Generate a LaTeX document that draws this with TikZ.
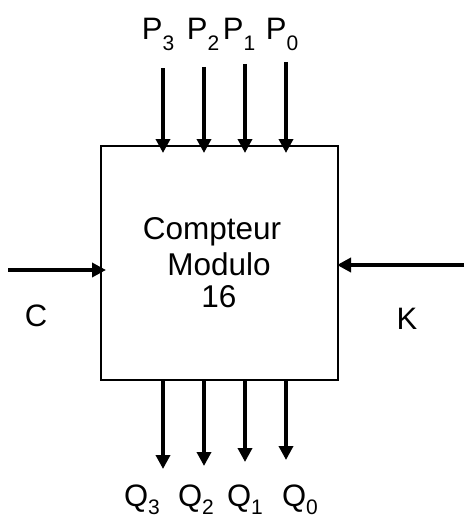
\documentclass[tikz,border=0pt]{standalone}
\usepackage{fontspec}
\setmainfont{Liberation Sans}
\usetikzlibrary{arrows.meta}
\newcommand{\subx}[2]{\raisebox{-#1pt}{\fontsize{21}{21}\selectfont #2}}
\begin{document}
\begin{tikzpicture}[x=1pt,y=-1pt,
  sig/.style={line width=4.5pt,-{Triangle[length=14pt,width=14pt]}},
  lbl/.style={font=\fontsize{31}{31}\selectfont,inner sep=0pt,anchor=base},
  txt/.style={font=\fontsize{31.5}{31.5}\selectfont,inner sep=0pt,anchor=base}]
\useasboundingbox (0,0) rectangle (464,519);
\node[draw,line width=1.8pt,minimum width=237pt,minimum height=234pt,inner sep=0pt,anchor=north west] (box) at (100,145) {};
\node[txt] (t1) at (212,239) {Compteur};
\node[txt] (t2) at (219,275) {Modulo};
\node[txt] (t3) at (219,307) {16};
% top inputs
\foreach \i/\x/\ys in {3/163/68,2/204/67,1/245/64,0/286/62}{
  \coordinate (ps\i) at (\x,\ys);
  \coordinate (pe\i) at (\x,153);
  \draw[sig] (ps\i) -- (pe\i);
}
\node[lbl] (P3) at (158,40) {P\subx{11}{3}};
\node[lbl] (P2) at (203,40) {P\subx{11}{2}};
\node[lbl] (P1) at (239,40) {P\subx{11}{1}};
\node[lbl] (P0) at (282,40) {P\subx{11}{0}};
% bottom outputs
\foreach \i/\x/\ye in {3/163/469,2/204/466,1/245/462,0/286/460}{
  \coordinate (qs\i) at (\x,379);
  \coordinate (qe\i) at (\x,\ye);
  \draw[sig] (qs\i) -- (qe\i);
}
\node[lbl] (Q3) at (142,506) {Q\subx{8}{3}};
\node[lbl] (Q2) at (196,506) {Q\subx{8}{2}};
\node[lbl] (Q1) at (245,506) {Q\subx{8}{1}};
\node[lbl] (Q0) at (300,506) {Q\subx{8}{0}};
% side inputs
\coordinate (cs) at (8,270);
\coordinate (ce) at (106,270);
\draw[sig] (cs) -- (ce);
\node[lbl] (C) at (36,326) {C};
\coordinate (ks) at (464,265);
\coordinate (ke) at (337,265);
\draw[sig] (ks) -- (ke);
\node[lbl] (K) at (407,329) {K};
\end{tikzpicture}
\end{document}
